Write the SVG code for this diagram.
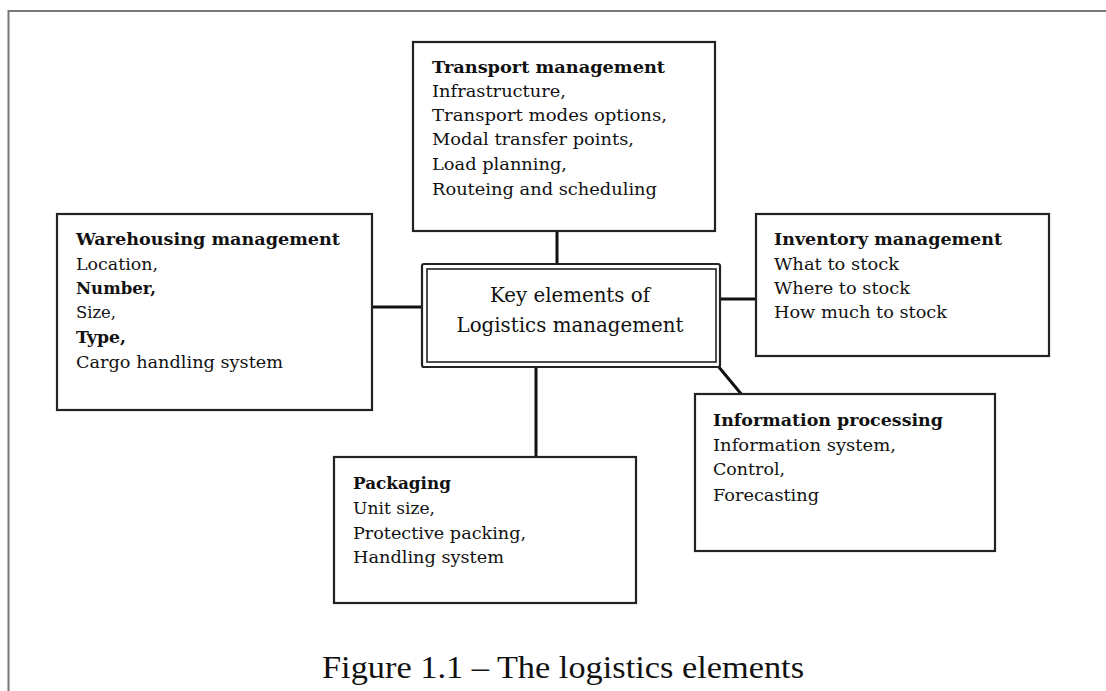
<svg xmlns="http://www.w3.org/2000/svg" width="1106" height="691" viewBox="0 0 1106 691">
<style>
.box{fill:#fff;stroke:#222;stroke-width:2.2}
.t{font-family:"DejaVu Serif","Liberation Serif",serif;font-size:17.5px;fill:#111}
.b{font-weight:bold}
.c{font-family:"DejaVu Serif","Liberation Serif",serif;font-size:21px;fill:#111;text-anchor:middle}
.cap{font-family:"Liberation Serif","DejaVu Serif",serif;font-size:31px;fill:#111}
.conn{stroke:#111;stroke-width:3;fill:none}
</style>
<rect width="1106" height="691" fill="#fff"/>
<path d="M8.5,691 V11 H1106" fill="none" stroke="#777" stroke-width="2"/>
<g id="connectors">
<line class="conn" x1="557" y1="231" x2="557" y2="264"/>
<line class="conn" x1="372" y1="307" x2="422" y2="307"/>
<line class="conn" x1="720" y1="299" x2="756" y2="299"/>
<line class="conn" x1="718" y1="366" x2="742" y2="395"/>
<line class="conn" x1="536" y1="367" x2="536" y2="457"/>
</g>
<g id="center">
<rect x="422" y="264" width="298" height="103" rx="2" fill="#fff" stroke="#222" stroke-width="2.2"/>
<rect x="427" y="269" width="289" height="93" fill="none" stroke="#222" stroke-width="1.6"/>
<text class="c" x="570" y="302" textLength="160" lengthAdjust="spacingAndGlyphs">Key elements of</text>
<text class="c" x="570" y="332" textLength="227" lengthAdjust="spacingAndGlyphs">Logistics management</text>
</g>
<g id="transport">
<rect class="box" x="413" y="42" width="302" height="189"/>
<text class="t b" x="432" y="73" textLength="233" lengthAdjust="spacingAndGlyphs">Transport management</text>
<text class="t" x="432" y="97" textLength="134" lengthAdjust="spacingAndGlyphs">Infrastructure,</text>
<text class="t" x="432" y="121" textLength="235" lengthAdjust="spacingAndGlyphs">Transport modes options,</text>
<text class="t" x="432" y="145" textLength="202" lengthAdjust="spacingAndGlyphs">Modal transfer points,</text>
<text class="t" x="432" y="170" textLength="135" lengthAdjust="spacingAndGlyphs">Load planning,</text>
<text class="t" x="432" y="195" textLength="225" lengthAdjust="spacingAndGlyphs">Routeing and scheduling</text>
</g>
<g id="warehousing">
<rect class="box" x="57" y="214" width="315" height="196"/>
<text class="t b" x="76" y="245" textLength="264" lengthAdjust="spacingAndGlyphs">Warehousing management</text>
<text class="t" x="76" y="270" textLength="82" lengthAdjust="spacingAndGlyphs">Location,</text>
<text class="t b" x="76" y="294" textLength="80" lengthAdjust="spacingAndGlyphs">Number,</text>
<text class="t" x="76" y="318" textLength="40" lengthAdjust="spacingAndGlyphs">Size,</text>
<text class="t b" x="76" y="343" textLength="50" lengthAdjust="spacingAndGlyphs">Type,</text>
<text class="t" x="76" y="368" textLength="207" lengthAdjust="spacingAndGlyphs">Cargo handling system</text>
</g>
<g id="inventory">
<rect class="box" x="756" y="214" width="293" height="142"/>
<text class="t b" x="774" y="245" textLength="228" lengthAdjust="spacingAndGlyphs">Inventory management</text>
<text class="t" x="774" y="270" textLength="125" lengthAdjust="spacingAndGlyphs">What to stock</text>
<text class="t" x="774" y="294" textLength="136" lengthAdjust="spacingAndGlyphs">Where to stock</text>
<text class="t" x="774" y="318" textLength="173" lengthAdjust="spacingAndGlyphs">How much to stock</text>
</g>
<g id="information">
<rect class="box" x="695" y="394" width="300" height="157"/>
<text class="t b" x="713" y="426" textLength="230" lengthAdjust="spacingAndGlyphs">Information processing</text>
<text class="t" x="713" y="451" textLength="183" lengthAdjust="spacingAndGlyphs">Information system,</text>
<text class="t" x="713" y="475" textLength="72" lengthAdjust="spacingAndGlyphs">Control,</text>
<text class="t" x="713" y="501" textLength="106" lengthAdjust="spacingAndGlyphs">Forecasting</text>
</g>
<g id="packaging">
<rect class="box" x="334" y="457" width="302" height="146"/>
<text class="t b" x="353" y="489" textLength="98" lengthAdjust="spacingAndGlyphs">Packaging</text>
<text class="t" x="353" y="514" textLength="82" lengthAdjust="spacingAndGlyphs">Unit size,</text>
<text class="t" x="353" y="539" textLength="173" lengthAdjust="spacingAndGlyphs">Protective packing,</text>
<text class="t" x="353" y="563" textLength="151" lengthAdjust="spacingAndGlyphs">Handling system</text>
</g>
<text class="cap" x="322" y="678" textLength="482" lengthAdjust="spacingAndGlyphs">Figure 1.1 – The logistics elements</text>
</svg>
